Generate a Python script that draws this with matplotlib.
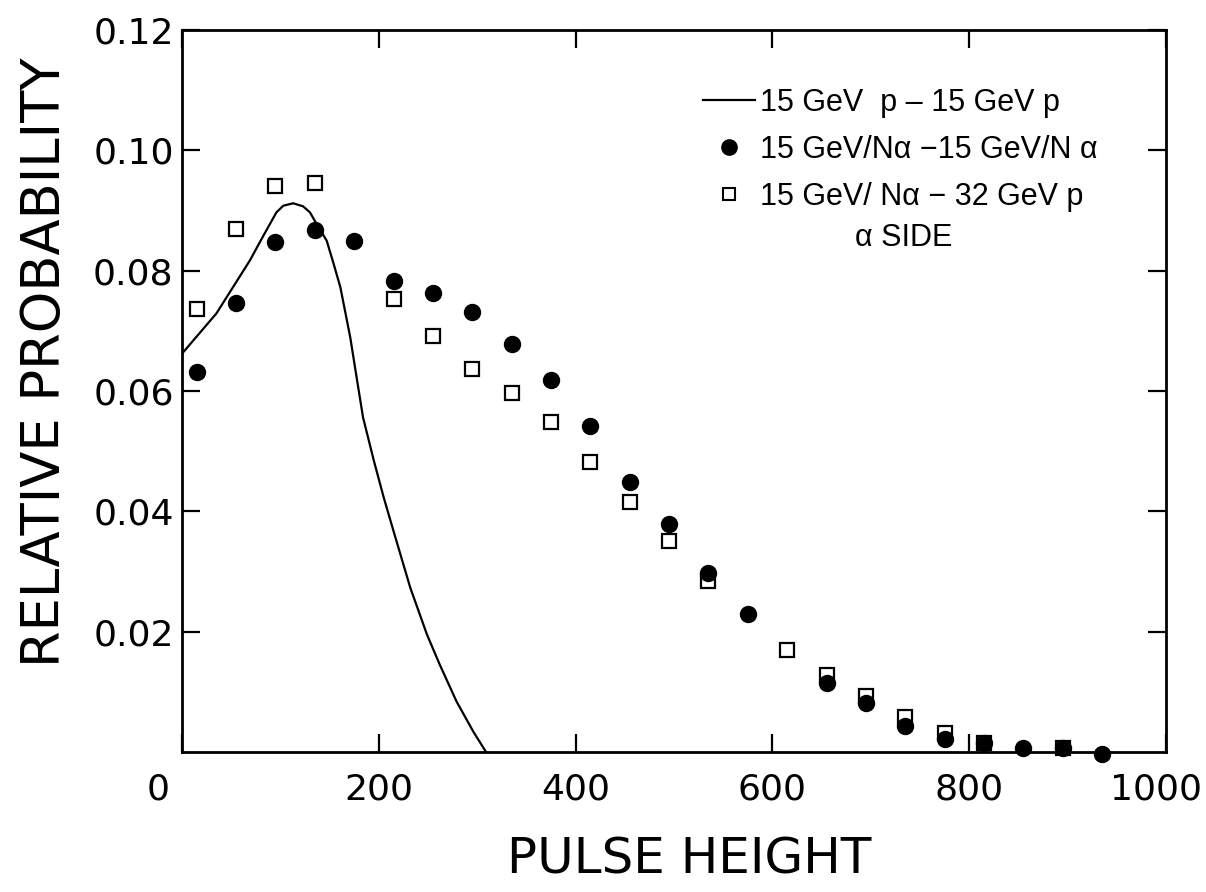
import matplotlib
matplotlib.use('Agg')
import matplotlib.pyplot as plt
from matplotlib.lines import Line2D
import matplotlib.transforms as mtransforms

# ---- data ----
# 15 GeV p - 15 GeV p (solid curve)
curve_x = [0, 35, 69, 83, 96, 103, 113, 123, 130, 137, 147, 154, 161, 171,
           178, 184, 195, 205, 215, 232, 249, 262, 279, 296, 309]
curve_y = [0.0662, 0.0729, 0.0817, 0.0859, 0.0897, 0.0908, 0.0912, 0.0907,
           0.0897, 0.0877, 0.0850, 0.0812, 0.0772, 0.0689, 0.0617, 0.0556,
           0.0484, 0.0423, 0.0367, 0.0273, 0.0195, 0.0145, 0.0084, 0.0034,
           0.0]

# 15 GeV/N alpha - 15 GeV/N alpha (filled circles)
alpha_x = [15, 55, 95, 135, 175, 215, 255, 295, 335, 375, 415, 455, 495, 535,
           575, 655, 695, 735, 775, 815, 855, 895, 935]
alpha_y = [0.0632, 0.0746, 0.0847, 0.0868, 0.0850, 0.0783, 0.0763, 0.0732,
           0.0678, 0.0618, 0.0541, 0.0449, 0.0379, 0.0297, 0.0229, 0.0114,
           0.0081, 0.0044, 0.0022, 0.0015, 0.0006, 0.0006, -0.0004]

# 15 GeV/N alpha - 32 GeV p (open squares)
mixed_x = [15, 55, 95, 135, 215, 255, 295, 335, 375, 415, 455, 495, 535, 615,
           655, 695, 735, 775, 815, 895]
mixed_y = [0.0736, 0.0869, 0.0941, 0.0946, 0.0753, 0.0692, 0.0636, 0.0596,
           0.0548, 0.0482, 0.0416, 0.0350, 0.0284, 0.0170, 0.0128, 0.0093,
           0.0058, 0.0032, 0.0015, 0.0006]

xticks = [0, 200, 400, 600, 800, 1000]
xtick_labels = ['0', '200', '400', '600', '800', '1000']
yticks = [0.02, 0.04, 0.06, 0.08, 0.10, 0.12]
ytick_labels = ['0.02', '0.04', '0.06', '0.08', '0.10', '0.12']

legend_labels = ['15 GeV  p \u2013 15 GeV p',
                 '15 GeV/N\u03b1 \u221215 GeV/N \u03b1',
                 '15 GeV/ N\u03b1 \u2212 32 GeV p']
note_text = '\u03b1 SIDE'
xlabel = 'PULSE HEIGHT'
ylabel = 'RELATIVE PROBABILITY'

# ---- figure ----
plt.rcParams['font.family'] = ['DejaVu Sans']
W, H = 1206, 892
fig = plt.figure(figsize=(W / 100, H / 100), dpi=100)
ax = fig.add_axes([182 / W, 1 - 752 / H, (1166 - 182) / W, (752 - 30) / H])

ax.plot(curve_x, curve_y, color='black', lw=1.6, solid_joinstyle='round')
ax.plot(alpha_x, alpha_y, ls='none', marker='o', color='black', ms=11.5,
        clip_on=False)
ax.plot(mixed_x, mixed_y, ls='none', marker='s', mfc='none', mec='black',
        mew=1.6, ms=9.5, clip_on=False)

ax.set_xlim(0, 1000)
ax.set_ylim(0, 0.12)
ax.set_xticks(xticks)
ax.set_xticklabels(xtick_labels)
ax.set_yticks(yticks)
ax.set_yticklabels(ytick_labels)
ax.tick_params(direction='in', length=13, width=1.6, top=True, right=True,
               labelsize=26, colors='black')
ax.tick_params(axis='x', pad=15)
ax.tick_params(axis='y', pad=6)
for s in ax.spines.values():
    s.set_linewidth(2.0)
    s.set_color('black')

xlabs = ax.get_xticklabels()
xlabs[0].set_transform(xlabs[0].get_transform() +
                       mtransforms.ScaledTranslation(-0.24, 0, fig.dpi_scale_trans))
xlabs[-1].set_transform(xlabs[-1].get_transform() +
                        mtransforms.ScaledTranslation(-0.10, 0, fig.dpi_scale_trans))

fig.text(45 / W, 1 - 362 / H, ylabel, rotation=90, ha='center', va='center',
         fontsize=38)
fig.text(689 / W, 1 - 860 / H, xlabel, ha='center', va='center', fontsize=36)

handles = [Line2D([], [], color='black', lw=1.6),
           Line2D([], [], ls='none', marker='o', color='black', ms=11),
           Line2D([], [], ls='none', marker='s', mfc='none', mec='black',
                  mew=1.5, ms=9)]
leg = ax.legend(handles, legend_labels, loc='upper left',
                bbox_to_anchor=(703 / W, 1 - 88 / H),
                bbox_transform=fig.transFigure, frameon=False,
                prop={'family': ['Liberation Sans', 'DejaVu Sans'], 'size': 22},
                handlelength=1.7, handletextpad=0.15, labelspacing=0.55,
                borderpad=0, borderaxespad=0)
fig.text(904 / W, 1 - 238 / H, note_text, ha='center', va='center',
         fontsize=22, family=['Liberation Sans', 'DejaVu Sans'])

fig.savefig('out.png', dpi=100)
